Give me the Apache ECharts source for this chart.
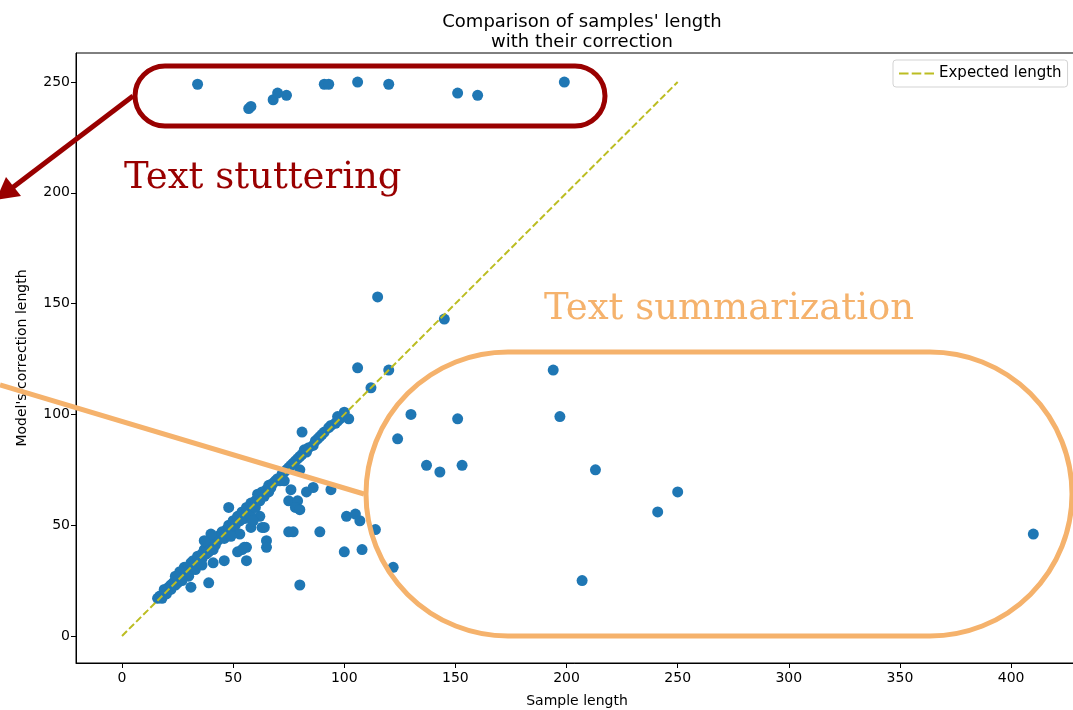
<!DOCTYPE html>
<html>
<head>
<meta charset="utf-8">
<style>
  html, body { margin: 0; padding: 0; background: #fff; }
  #chart { width: 1073px; height: 710px; }
</style>
<script src="https://cdn.jsdelivr.net/npm/echarts@6/dist/echarts.min.js"></script>
</head>
<body>
<div id="chart"></div>
<script>
// tick labels
const xTicks = [0, 50, 100, 150, 200, 250, 300, 350, 400];
const yTicks = [0, 50, 100, 150, 200, 250];

// [sample length, model's correction length]
const stutterPoints = [
  [34, 249], [57, 238], [58, 239], [68, 242], [70, 245], [74, 244], [91, 249],
  [93, 249], [106, 250], [120, 249], [151, 245], [160, 244], [199, 250]
];
const summaryPoints = [
  [115, 153], [145, 143], [106, 121], [120, 120], [112, 112], [194, 120], [197, 99],
  [130, 100], [151, 98], [124, 89], [137, 77], [143, 74], [153, 77], [213, 75],
  [250, 65], [241, 56], [207, 25], [410, 46], [122, 31]
];
const offDiagPoints = [
  [81, 92], [102, 98], [97, 99], [76, 66], [73, 70], [83, 65], [86, 67], [94, 66],
  [75, 61], [79, 61], [78, 58], [80, 57], [75, 47], [77, 47], [89, 47], [101, 54],
  [105, 55], [107, 52], [114, 48], [100, 38], [108, 39], [80, 23], [80, 75],
  [48, 58], [31, 22], [39, 24], [56, 40], [52, 38], [56, 34], [65, 43], [65, 40],
  [41, 33], [46, 34], [64, 49], [58, 49], [62, 54], [58, 54], [60, 58], [53, 46],
  [49, 45], [59, 52], [63, 49], [54, 39], [55, 40], [40, 46], [37, 43], [41, 39],
  [33, 30], [30, 27], [27, 25], [36, 32], [26, 29], [24, 27]
];
const diagPoints = [
  [16, 17], [17, 18], [18, 17], [19, 20], [19, 21], [20, 19], [21, 22], [22, 21],
  [22, 23], [23, 24], [24, 23], [24, 25], [25, 26], [25, 24], [26, 27], [27, 26],
  [27, 28], [28, 29], [28, 31], [29, 28], [29, 30], [30, 31], [30, 29], [31, 32],
  [31, 33], [32, 31], [32, 34], [33, 33], [34, 35], [34, 36], [35, 34], [35, 33],
  [36, 37], [36, 35], [37, 38], [37, 39], [38, 37], [38, 40], [39, 41], [39, 38],
  [40, 40], [40, 42], [41, 42], [42, 41], [42, 44], [43, 43], [43, 45], [44, 44],
  [45, 46], [45, 47], [46, 45], [46, 44], [47, 48], [48, 49], [48, 50], [49, 48],
  [50, 51], [50, 52], [51, 50], [52, 53], [52, 54], [53, 52], [54, 55], [54, 56],
  [55, 53], [56, 57], [56, 58], [57, 56], [58, 59], [58, 60], [59, 58], [60, 61],
  [61, 62], [61, 64], [62, 61], [63, 65], [64, 63], [65, 66], [66, 65], [66, 68],
  [67, 67], [68, 69], [69, 70], [70, 71], [71, 70], [72, 73], [73, 74], [74, 75],
  [75, 76], [76, 77], [77, 78], [78, 79], [79, 80], [80, 81], [81, 82], [82, 84],
  [83, 83], [84, 85], [86, 86], [87, 88], [88, 89], [89, 90], [90, 91], [91, 92],
  [93, 94], [94, 95], [96, 96], [97, 97], [98, 98], [100, 101]
];
const expectedLine = [[0, 0], [250, 250]];

const allPoints = diagPoints.concat(offDiagPoints, summaryPoints, stutterPoints);

const chart = echarts.init(document.getElementById('chart'), null, { renderer: 'canvas' });

const red = '#990000';
const orange = '#f5b26c';
const serif = '37px "DejaVu Serif"';
const dashIcon = 'path://M0,0H9V2H0Z M12,0H21V2H12Z M24,0H33V2H24Z';

var option = {
  animation: false,
  title: {
    text: "Comparison of samples' length\nwith their correction",
    left: 577,
    textAlign: 'center',
    top: 7,
    textStyle: { fontFamily: 'DejaVu Sans', fontSize: 18, fontWeight: 'normal', color: '#000', lineHeight: 20 }
  },
  legend: {
    data: [{ name: 'Expected length', icon: dashIcon }],
    left: 893,
    top: 60,
    padding: [6, 6, 6, 6],
    itemWidth: 35,
    itemHeight: 14,
    itemGap: 8,
    backgroundColor: '#fff',
    borderColor: '#d3d3d3',
    borderWidth: 1,
    borderRadius: 3,
    textStyle: { fontFamily: 'DejaVu Sans', fontSize: 15, color: '#000' }
  },
  grid: {
    left: 76, top: 53, width: 1002, height: 610,
    show: true, borderColor: '#000', borderWidth: 1,
    containLabel: false,
    outerBoundsMode: 'none'
  },
  xAxis: {
    type: 'value',
    min: -20.7,
    max: 430.1,
    name: 'Sample length',
    nameLocation: 'middle',
    nameGap: 31,
    nameTextStyle: { fontFamily: 'DejaVu Sans', fontSize: 14, color: '#000' },
    axisLine: { show: true, onZero: false, lineStyle: { color: '#000' } },
    axisTick: { show: true, length: 5, lineStyle: { color: '#000' }, customValues: xTicks },
    axisLabel: { fontFamily: 'DejaVu Sans', fontSize: 14, color: '#000', margin: 8, customValues: xTicks },
    splitLine: { show: false }
  },
  yAxis: {
    type: 'value',
    min: -12.2,
    max: 263.1,
    name: "Model's correction length",
    nameLocation: 'middle',
    nameGap: 47,
    nameTextStyle: { fontFamily: 'DejaVu Sans', fontSize: 14, color: '#000' },
    axisLine: { show: true, onZero: false, lineStyle: { color: '#000' } },
    axisTick: { show: true, length: 5, lineStyle: { color: '#000' }, customValues: yTicks },
    axisLabel: { fontFamily: 'DejaVu Sans', fontSize: 14, color: '#000', margin: 6, customValues: yTicks },
    splitLine: { show: false }
  },
  series: [
    {
      name: 'samples',
      type: 'scatter',
      data: allPoints,
      symbolSize: 11,
      itemStyle: { color: '#1f77b4', opacity: 1 },
      z: 2
    },
    {
      name: 'Expected length',
      type: 'line',
      data: expectedLine,
      symbol: 'none',
      lineStyle: { color: '#bcbd22', width: 2, type: [7, 3] },
      itemStyle: { color: '#bcbd22' },
      z: 3
    }
  ],
  graphic: [
    {
      type: 'rect', z: 100,
      shape: { x: 135, y: 66, width: 470, height: 60, r: 30 },
      style: { fill: 'none', stroke: red, lineWidth: 5 }
    },
    {
      type: 'line', z: 100,
      shape: { x1: 133, y1: 96, x2: 12, y2: 188 },
      style: { stroke: red, lineWidth: 5 }
    },
    {
      type: 'polygon', z: 100,
      shape: { points: [[-4, 200], [21, 196], [6, 177]] },
      style: { fill: red }
    },
    {
      type: 'text', z: 100, left: 124, top: 160,
      style: { text: 'Text stuttering', font: serif, fill: red }
    },
    {
      type: 'rect', z: 100,
      shape: { x: 366, y: 352, width: 706, height: 284, r: 142 },
      style: { fill: 'none', stroke: orange, lineWidth: 5 }
    },
    {
      type: 'line', z: 100,
      shape: { x1: 0, y1: 385, x2: 364, y2: 494 },
      style: { stroke: orange, lineWidth: 5 }
    },
    {
      type: 'text', z: 100, left: 544, top: 291,
      style: { text: 'Text summarization', font: serif, fill: orange }
    }
  ]
};

chart.setOption(option);
</script>
</body>
</html>
